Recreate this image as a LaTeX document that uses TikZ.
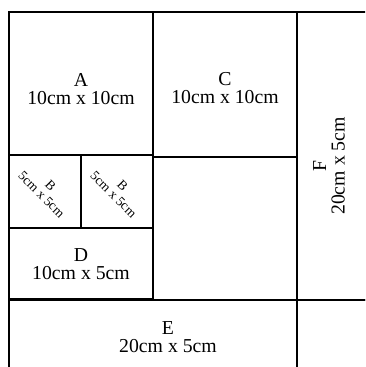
\documentclass[tikz,border=0pt]{standalone}
\usepackage{fontspec}
\setmainfont{Liberation Serif}
\begin{document}
\begin{tikzpicture}[x=0.75pt,y=-0.75pt,
  thin box/.style={draw=black,line width=1.5pt},
  thick box/.style={draw=black,line width=2.1pt},
  big label/.style={align=center,inner sep=0pt,font=\fontsize{14.8}{13.8}\selectfont},
  small label/.style={align=center,inner sep=0pt,rotate=-45,font=\fontsize{10}{9.5}\selectfont}]
\useasboundingbox (0,0) rectangle (365,367);
\clip (0,0) rectangle (365,367);
\fill[white] (0,0) rectangle (365,367);
% thin boxes
\draw[thin box] (153,12) rectangle (297,157);
\draw[thin box] (297,12) rectangle (369,300);
\draw[thin box] (9,300) rectangle (297,372);
\draw[thin box] (297,300) rectangle (369,372);
\draw[thin box] (153,157) rectangle (297,300);
% thick boxes
\draw[thick box] (9,12) rectangle (153,155);
\draw[thick box] (9,155) rectangle (81,228);
\draw[thick box] (81,155) rectangle (153,228);
\draw[thick box] (9,228) rectangle (153,299);
% labels
\node[big label] (A) at (81,89) {A\\10cm x 10cm};
\node[big label] (C) at (225,88) {C\\10cm x 10cm};
\node[big label] (D) at (81,264) {D\\10cm x 5cm};
\node[big label] (E) at (168,337) {E\\20cm x 5cm};
\node[big label,rotate=90] (F) at (329,166) {F\\20cm x 5cm};
\node[small label] (B1) at (46,190) {B\\5cm x 5cm};
\node[small label] (B2) at (118,190) {B\\5cm x 5cm};
\end{tikzpicture}
\end{document}
